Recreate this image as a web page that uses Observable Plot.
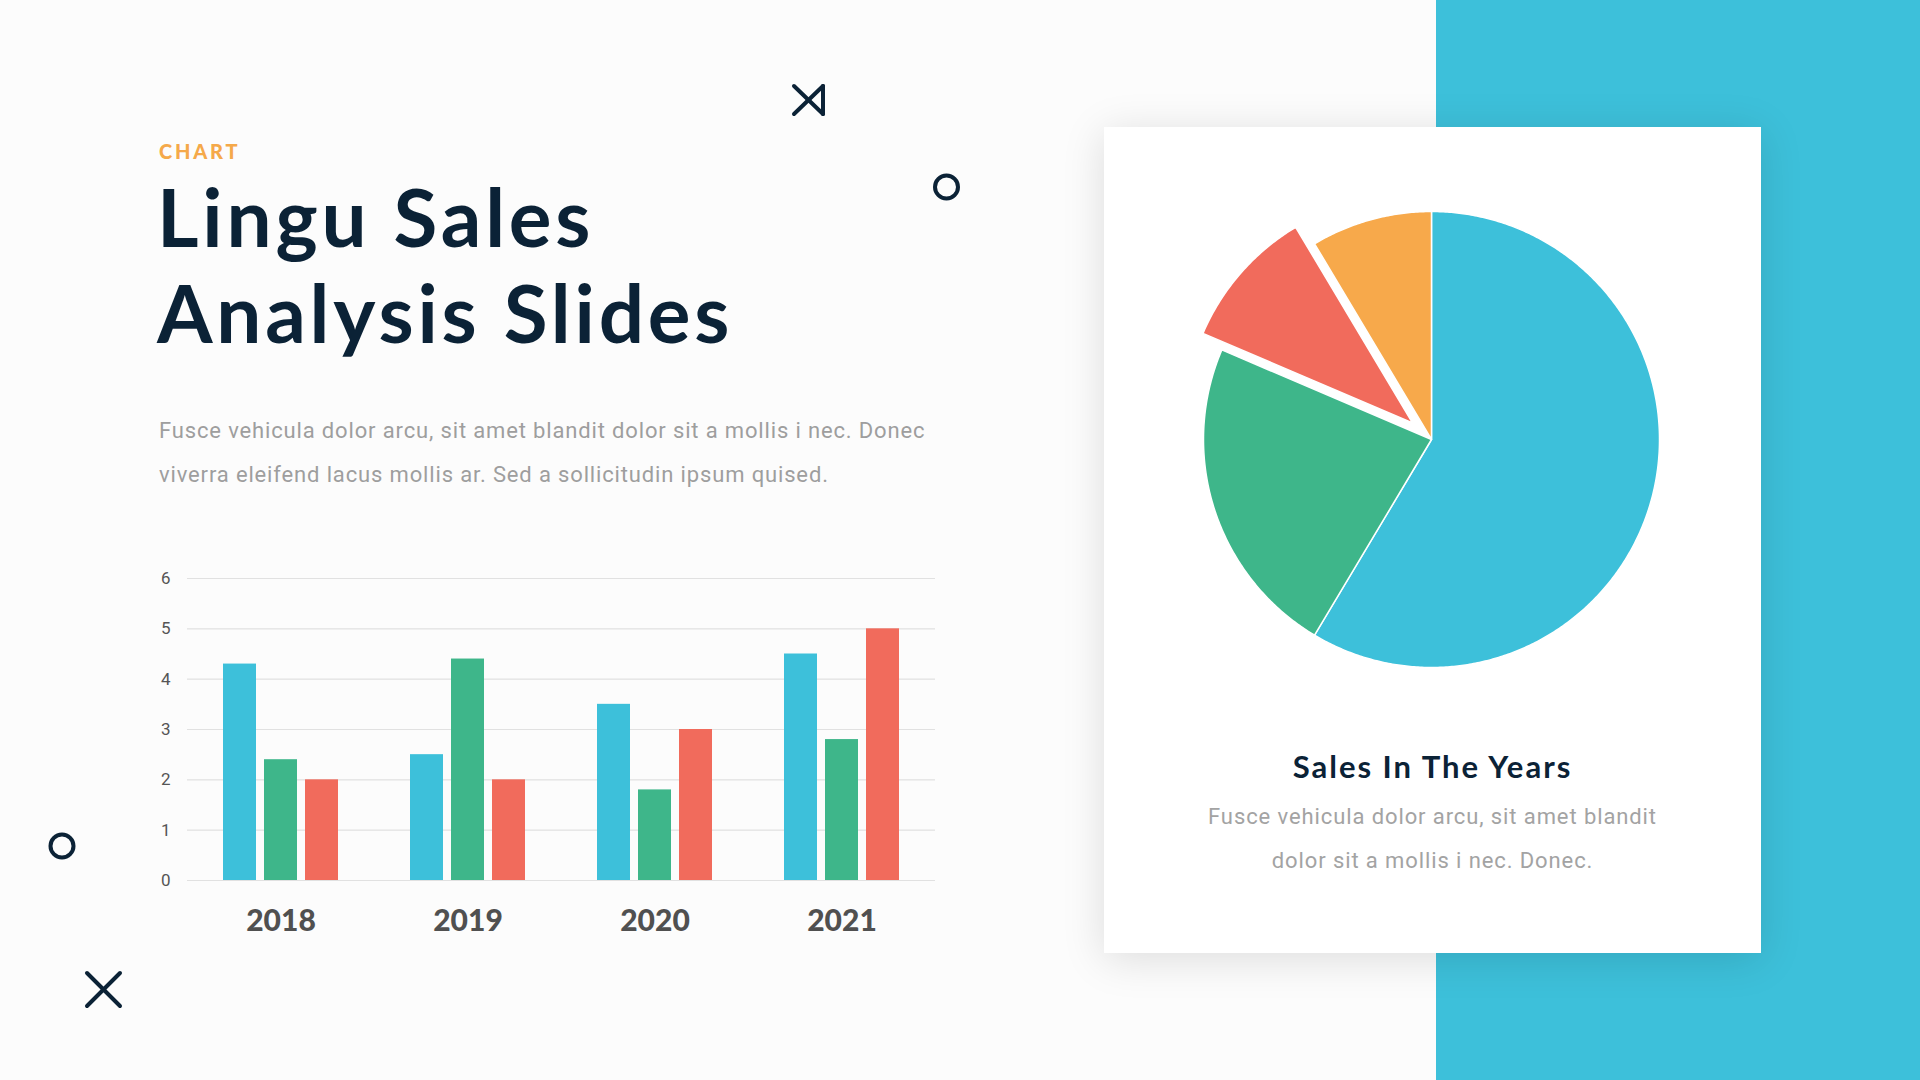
<!DOCTYPE html>
<html>
<head>
<meta charset="utf-8">
<script src="https://cdn.jsdelivr.net/npm/d3@7"></script>
<script src="https://cdn.jsdelivr.net/npm/@observablehq/plot@0.6"></script>
<style>
  html, body { margin: 0; padding: 0; }
  body { width: 1920px; height: 1080px; background: #fcfcfc; position: relative; overflow: hidden; font-family: Roboto, sans-serif; }
  .abs { position: absolute; }
  #blue { left: 1436px; top: 0; width: 484px; height: 1080px; background: #3DC0DA; }
  #card { left: 1104px; top: 127px; width: 657px; height: 826px; background: #ffffff; box-shadow: 0 6px 40px rgba(0,0,0,0.13); }
  #kicker { left: 159px; top: 141px; font-family: Lato, sans-serif; font-weight: 900; font-size: 20px; line-height: 20px; letter-spacing: 2.8px; color: #F5A94A; }
  #title { left: 157px; top: 168px; font-family: Lato, sans-serif; font-weight: 700; font-size: 80px; line-height: 96px; color: #0B2236; letter-spacing: 3.8px; white-space: nowrap; }
  #para { left: 159px; top: 409px; width: 900px; font-family: Roboto, sans-serif; font-size: 22px; line-height: 44px; letter-spacing: 0.85px; color: #9e9e9e; white-space: nowrap; }
  #cardTitle { left: 1104px; width: 657px; top: 751px; text-align: center; font-family: Lato, sans-serif; font-weight: 700; font-size: 31px; line-height: 31px; letter-spacing: 2px; color: #0B2236; }
  #cardText { left: 1104px; width: 657px; top: 795px; text-align: center; font-family: Roboto, sans-serif; font-size: 22px; line-height: 44px; letter-spacing: 0.9px; color: #a3a3a3; }
  #bars { left: 140px; top: 560px; }
  #pie { left: 1171px; top: 179px; }
  #deco { left: 0; top: 0; pointer-events: none; }
</style>
</head>
<body>
<div id="blue" class="abs"></div>
<div id="card" class="abs"></div>
<div id="kicker" class="abs">CHART</div>
<div id="title" class="abs">Lingu Sales<br>Analysis Slides</div>
<div id="para" class="abs">Fusce vehicula dolor arcu, sit amet blandit dolor sit a mollis i nec. Donec<br>viverra eleifend lacus mollis ar. Sed a sollicitudin ipsum quised.</div>
<div id="cardTitle" class="abs">Sales In The Years</div>
<div id="cardText" class="abs">Fusce vehicula dolor arcu, sit amet blandit<br>dolor sit a mollis i nec. Donec.</div>
<div id="bars" class="abs"></div>
<div id="pie" class="abs"></div>
<svg id="deco" class="abs" width="1920" height="1080" fill="none" stroke="#0B2236" stroke-width="4" stroke-linecap="round">
  <line x1="794" y1="86" x2="823" y2="114"/>
  <line x1="794" y1="114" x2="823" y2="86"/>
  <line x1="823" y1="86" x2="823" y2="114"/>
  <circle cx="946.5" cy="187" r="11.5"/>
  <circle cx="62" cy="846" r="11.5"/>
  <line x1="87" y1="973" x2="120" y2="1006"/>
  <line x1="87" y1="1006" x2="120" y2="973"/>
</svg>
<script>
// ---- Bar chart data ----
const years = ["2018", "2019", "2020", "2021"];
const seriesNames = ["Series 1", "Series 2", "Series 3"];
const series1 = [4.3, 2.5, 3.5, 4.5];
const series2 = [2.4, 4.4, 1.8, 2.8];
const series3 = [2, 2, 3, 5];
const barColors = ["#3DC0DA", "#3EB68A", "#F16B5C"];
const yTicks = [0, 1, 2, 3, 4, 5, 6];

// ---- Pie chart data ----
const pieLabels = ["1st Qtr", "2nd Qtr", "3rd Qtr", "4th Qtr"];
const pieValues = [8.2, 3.2, 1.4, 1.2];
const pieColors = ["#3DC0DA", "#3EB68A", "#F16B5C", "#F7A94B"];
const pieExplode = [0, 0, 0.11, 0];

// Build bar table
const allSeries = [series1, series2, series3];
const barData = [];
years.forEach((yr, i) => {
  seriesNames.forEach((s, j) => barData.push({ year: yr, series: s, value: allSeries[j][i] }));
});

const bars = Plot.plot({
  width: 820,
  height: 390,
  marginLeft: 45,
  marginRight: 24,
  marginTop: 18,
  marginBottom: 70,
  style: { fontFamily: "Roboto, sans-serif", fontSize: "17px", color: "#555", background: "transparent", overflow: "visible" },
  fx: { domain: years, padding: 0, label: null },
  x: { domain: seriesNames, paddingInner: 0.2, paddingOuter: 0.86, axis: null },
  y: { domain: [0, 6], label: null },
  color: { domain: seriesNames, range: barColors },
  marks: [
    Plot.gridY(yTicks, { stroke: "#e1e1e1", strokeOpacity: 1, strokeWidth: 1.2 }),
    Plot.axisY(yTicks, { tickSize: 0, tickPadding: 17, label: null, fill: "#555", fontSize: 17, tickFormat: d3.format("d") }),
    Plot.axisFx({ anchor: "bottom", tickSize: 0, tickPadding: 29, label: null, fontSize: 30, fontWeight: 900, fontFamily: "Lato, sans-serif", fill: "#505050" }),
    Plot.barY(barData, { fx: "year", x: "series", y: "value", fill: "series" })
  ]
});
document.getElementById("bars").appendChild(bars);

// Build pie outline points from cumulative values
const total = d3.sum(pieValues);
const piePts = [];
let acc = 0;
pieValues.forEach((v, i) => {
  const a0 = acc / total * 2 * Math.PI;
  acc += v;
  const a1 = acc / total * 2 * Math.PI;
  const mid = (a0 + a1) / 2;
  const ox = pieExplode[i] * Math.sin(mid);
  const oy = pieExplode[i] * Math.cos(mid);
  piePts.push({ slice: pieLabels[i], x: ox, y: oy });
  const n = Math.max(2, Math.ceil((a1 - a0) / (Math.PI / 360)));
  for (let k = 0; k <= n; k++) {
    const a = a0 + (a1 - a0) * k / n;
    piePts.push({ slice: pieLabels[i], x: ox + Math.sin(a), y: oy + Math.cos(a) });
  }
});

const kk = 260 / 228;
const pie = Plot.plot({
  width: 520,
  height: 520,
  margin: 0,
  style: { background: "transparent", overflow: "visible" },
  x: { domain: [-kk, kk], axis: null },
  y: { domain: [-kk, kk], axis: null },
  color: { domain: pieLabels, range: pieColors },
  marks: [
    Plot.line(piePts, { x: "x", y: "y", z: "slice", fill: "slice", stroke: "white", strokeWidth: 1.5, curve: "linear-closed" })
  ]
});
document.getElementById("pie").appendChild(pie);
</script>
</body>
</html>
